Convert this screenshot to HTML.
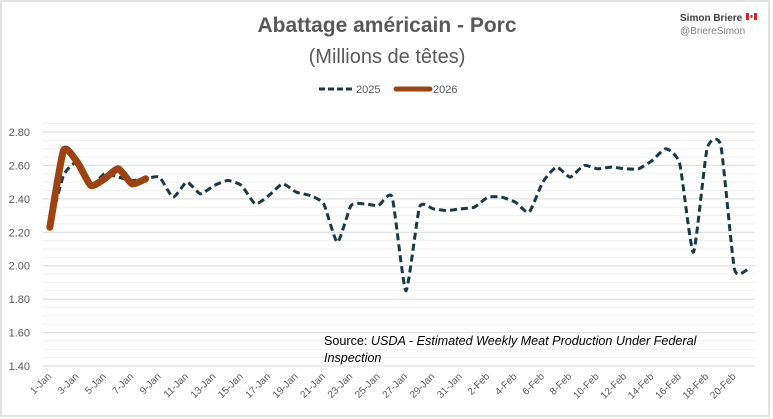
<!DOCTYPE html>
<html><head><meta charset="utf-8"><style>
body{margin:0;background:#fff;}
svg{display:block;font-family:"Liberation Sans",sans-serif;}
</style></head><body>
<svg id="chart" width="773" height="419" viewBox="0 0 773 419">
<rect x="1" y="1" width="768" height="415" fill="#fff" stroke="#d9d9d9" stroke-width="1.5"/>
<text x="387" y="32" text-anchor="middle" font-size="21" font-weight="bold" fill="#595959">Abattage américain - Porc</text>
<text x="387" y="63" text-anchor="middle" font-size="20" fill="#595959">(Millions de têtes)</text>
<text x="680" y="21" font-size="10" font-weight="bold" fill="#404040">Simon Briere</text>
<g><rect x="746" y="13" width="3" height="7" fill="#e0202a"/><rect x="749" y="13" width="5" height="7" fill="#fff"/><rect x="754" y="13" width="3" height="7" fill="#e0202a"/><rect x="750.5" y="15" width="2" height="3" fill="#e0202a"/></g>
<text x="680" y="34" font-size="10" fill="#7f7f7f">@BriereSimon</text>
<g>
<g><line x1="319" y1="89" x2="353" y2="89" stroke="#17394a" stroke-width="3" stroke-dasharray="6,3"/><text x="356" y="93" font-size="11" fill="#595959">2025</text></g>
<g><line x1="396" y1="89" x2="430" y2="89" stroke="#9c4311" stroke-width="5" stroke-linecap="round"/><text x="433" y="93" font-size="11" fill="#595959">2026</text></g>
</g>
<g id="grid"></g><g id="yaxis"></g><g id="xaxis"></g><g id="series"></g>
<text x="324" y="345" font-size="12.6" fill="#000">Source: <tspan font-style="italic">USDA - Estimated Weekly Meat Production Under Federal</tspan></text>
<text x="324" y="362" font-size="12.6" font-style="italic" fill="#000">Inspection</text>
</svg>
<script>
const categories = ["1-Jan","2-Jan","3-Jan","4-Jan","5-Jan","6-Jan","7-Jan","8-Jan","9-Jan","10-Jan","11-Jan","12-Jan","13-Jan","14-Jan","15-Jan","16-Jan","17-Jan","18-Jan","19-Jan","20-Jan","21-Jan","22-Jan","23-Jan","24-Jan","25-Jan","26-Jan","27-Jan","28-Jan","29-Jan","30-Jan","31-Jan","1-Feb","2-Feb","3-Feb","4-Feb","5-Feb","6-Feb","7-Feb","8-Feb","9-Feb","10-Feb","11-Feb","12-Feb","13-Feb","14-Feb","15-Feb","16-Feb","17-Feb","18-Feb","19-Feb","20-Feb","21-Feb"];
const series2025 = [2.24,2.54,2.62,2.48,2.55,2.53,2.51,2.52,2.53,2.41,2.50,2.43,2.48,2.51,2.48,2.37,2.42,2.49,2.44,2.42,2.37,2.14,2.36,2.37,2.36,2.41,1.85,2.35,2.34,2.33,2.34,2.35,2.41,2.41,2.38,2.32,2.50,2.59,2.53,2.60,2.58,2.59,2.58,2.58,2.63,2.70,2.61,2.08,2.70,2.72,1.98,1.98];
const series2026 = [2.23,2.69,2.62,2.48,2.52,2.58,2.49,2.52];
const yTicks = [1.40,1.60,1.80,2.00,2.20,2.40,2.60,2.80];
const yMin = 1.40, yMax = 2.85;
const NS = "http://www.w3.org/2000/svg";
const plotL = 43, plotR = 755, step = (plotR - plotL) / categories.length;
function xPos(i){ return plotL + step * (i + 0.5); }
function yPos(v){ return 366 - (v - yMin) * 167.15; }
function mk(tag, attrs, parent){ const e = document.createElementNS(NS, tag); for (const k in attrs) e.setAttribute(k, attrs[k]); parent.appendChild(e); return e; }
const grid = document.getElementById('grid'), yax = document.getElementById('yaxis'), xax = document.getElementById('xaxis'), ser = document.getElementById('series');
for (let v = yMin; v <= yMax + 1e-9; v += 0.05) {
  const major = Math.abs((v - yMin) / 0.2 - Math.round((v - yMin) / 0.2)) < 1e-6;
  const l = mk('line', {x1: plotL, x2: plotR, y1: yPos(v), y2: yPos(v), stroke: major ? '#d9d9d9' : '#f0f0f0', 'stroke-width': 1}, grid);
  
  
}
yTicks.forEach(v => {
  const t = mk('text', {x: 30, y: yPos(v) + 4, 'text-anchor': 'end', 'font-size': 11, fill: '#595959'}, yax);
  t.textContent = v.toFixed(2);
  
  
});
categories.forEach((c, i) => {
  if (i % 2) return;
  const x = xPos(i) + 2, y = 377;
  const t = mk('text', {x: x, y: y, 'text-anchor': 'end', 'font-size': 10, fill: '#595959', transform: `rotate(-45 ${x} ${y})`}, xax);
  t.textContent = c;
  
  
});
function smoothPath(vals){
  const p = vals.map((v, i) => [xPos(i), yPos(v)]);
  let d = `M${p[0][0]},${p[0][1]}`;
  for (let i = 0; i < p.length - 1; i++) {
    const p0 = p[Math.max(0, i - 1)], p1 = p[i], p2 = p[i + 1], p3 = p[Math.min(p.length - 1, i + 2)];
    const t = 0.09;
    const c1 = [p1[0] + (p2[0] - p0[0]) * t, p1[1] + (p2[1] - p0[1]) * t];
    const c2 = [p2[0] - (p3[0] - p1[0]) * t, p2[1] - (p3[1] - p1[1]) * t];
    d += ` C${c1[0]},${c1[1]} ${c2[0]},${c2[1]} ${p2[0]},${p2[1]}`;
  }
  return d;
}
const l25 = mk('path', {d: smoothPath(series2025), fill: 'none', stroke: '#17394a', 'stroke-width': 3, 'stroke-dasharray': '7,4', 'stroke-linejoin': 'round'}, ser);


const l26 = mk('path', {d: smoothPath(series2026), fill: 'none', stroke: '#9c4311', 'stroke-width': 7, 'stroke-linecap': 'round', 'stroke-linejoin': 'round'}, ser);


</script>
</body></html>
